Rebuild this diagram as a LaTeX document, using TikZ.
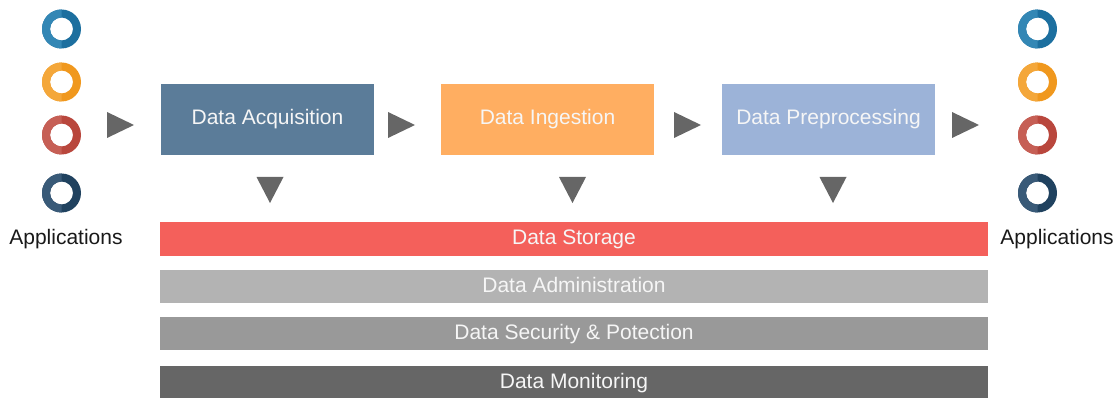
\documentclass[tikz,border=0pt]{standalone}
\usepackage{fontspec}
\setmainfont{Liberation Sans}
\definecolor{acqC}{HTML}{5B7C99}
\definecolor{ingC}{HTML}{FFAE61}
\definecolor{preC}{HTML}{9CB3D8}
\definecolor{storC}{HTML}{F4605B}
\definecolor{admC}{HTML}{B3B3B3}
\definecolor{secC}{HTML}{999999}
\definecolor{monC}{HTML}{666666}
\definecolor{markC}{HTML}{666666}
\definecolor{txtC}{HTML}{F6F6F6}
\definecolor{blueD}{HTML}{1C6F9F}\definecolor{blueL}{HTML}{3387B5}
\definecolor{orgD}{HTML}{F0981E}\definecolor{orgL}{HTML}{F4A73A}
\definecolor{redD}{HTML}{B9473D}\definecolor{redL}{HTML}{C65F55}
\definecolor{navD}{HTML}{20425F}\definecolor{navL}{HTML}{395A78}
% two-tone application ring: x, y, dark colour, light colour
\newcommand\appring[4]{%
  \fill[#3, even odd rule] (#1,#2) circle (19.5) (#1,#2) circle (11.5);
  \fill[#4] (#1,#2) ++(90:19.5) arc[start angle=90, end angle=270, radius=19.5]
    -- ++(90:8) arc[start angle=270, end angle=90, radius=11.5] -- cycle;
}
% right-pointing marker with its left edge at x, centred on y
\newcommand\rmark[2]{\fill[markC] (#1,#2-13) -- (#1+27,#2) -- (#1,#2+13) -- cycle;}
% down-pointing marker centred on x, top edge at y
\newcommand\dmark[2]{\fill[markC] (#1-13.5,#2) -- (#1+13.5,#2) -- (#1,#2+26) -- cycle;}
\tikzset{
  lbl/.style={font=\fontsize{21}{25}\selectfont, text height=15pt, text depth=4pt},
  stage/.style={lbl, minimum width=213pt, minimum height=71pt, inner sep=0pt, text=txtC},
  layer/.style={lbl, minimum width=828pt, inner sep=0pt, text=txtC},
  applabel/.style={lbl, text=black!90, inner sep=0pt},
}
\begin{document}
\begin{tikzpicture}[x=1pt, y=-1pt]
\useasboundingbox (0,0) rectangle (1118,398);

% applications on both sides
\foreach \cx in {61.5, 1037.5}{
  \appring{\cx}{29}{blueD}{blueL}
  \appring{\cx}{82}{orgD}{orgL}
  \appring{\cx}{135}{redD}{redL}
  \appring{\cx}{193}{navD}{navL}
}
\node[applabel] (appL) at (66,239) {Applications};
\node[applabel] (appR) at (1057,239) {Applications};

% pipeline stages
\node[stage, fill=acqC] (acq) at (267.5,119.5) {Data Acquisition};
\node[stage, fill=ingC] (ing) at (547.5,119.5) {Data Ingestion};
\node[stage, fill=preC] (pre) at (828.5,119.5) {Data Preprocessing};

% flow markers
\rmark{107}{125}
\rmark{388}{125}
\rmark{674}{125}
\rmark{952}{125}
\dmark{270}{177}
\dmark{572.5}{177}
\dmark{833}{177}

% horizontal layers
\node[layer, fill=storC, minimum height=34pt] (stor) at (574,239) {Data Storage};
\node[layer, fill=admC, minimum height=33pt] (adm) at (574,286.5) {Data Administration};
\node[layer, fill=secC, minimum height=33pt] (sec) at (574,333.5) {Data Security \& Potection};
\node[layer, fill=monC, minimum height=33pt] (mon) at (574,382.5) {Data Monitoring};
\end{tikzpicture}
\end{document}
